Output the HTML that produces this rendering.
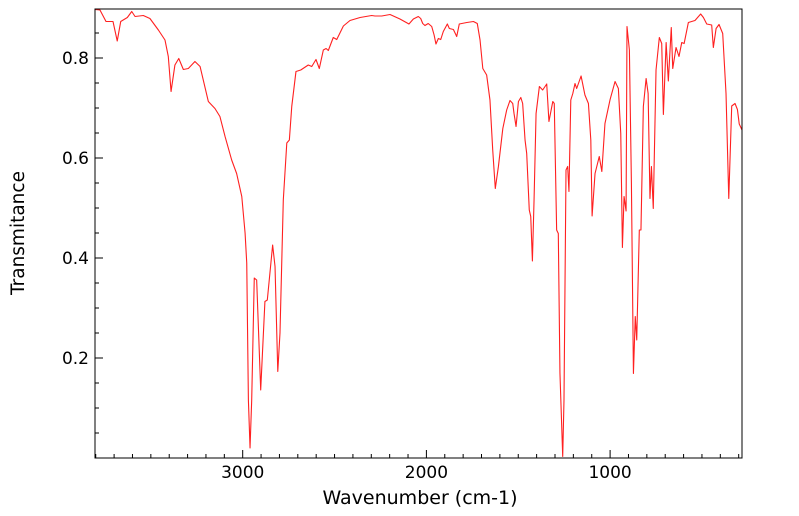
<!DOCTYPE html>
<html><head><meta charset="utf-8"><style>
html,body{margin:0;padding:0;background:#fff;}
svg{display:block;font-family:"DejaVu Sans","Liberation Sans",sans-serif;}
</style></head><body>
<svg id="chart" width="799" height="516">
<defs><clipPath id="clip"><rect x="95" y="9" width="647" height="449"/></clipPath></defs>
<rect x="0" y="0" width="799" height="516" fill="#fff"/>
<g id="ticks"></g>
<path id="spectrum" fill="none" stroke="#ff2020" stroke-width="1.1" stroke-linejoin="round" clip-path="url(#clip)"/>
<rect x="95" y="9" width="647" height="449" fill="none" stroke="#000" stroke-width="1"/>
<text x="24" y="233" transform="rotate(-90 24 233)" text-anchor="middle" font-size="18.5">Transmitance</text>
<text x="420" y="504" text-anchor="middle" font-size="19">Wavenumber (cm-1)</text>
</svg>
<script>
const wavenumbers=[3804,3777,3744,3706,3683,3664,3628,3604,3586,3541,3505,3459,3423,3405,3390,3369,3348,3323,3296,3260,3232,3187,3151,3124,3096,3060,3033,3005,2987,2978,2969,2960,2951,2937,2924,2902,2879,2866,2837,2824,2809,2797,2779,2760,2746,2733,2710,2684,2643,2624,2601,2583,2561,2546,2534,2507,2488,2452,2416,2361,2298,2280,2243,2198,2144,2095,2071,2044,2031,2020,2008,1990,1971,1958,1948,1935,1922,1908,1886,1875,1853,1835,1821,1780,1744,1723,1708,1693,1672,1654,1639,1625,1608,1584,1563,1545,1530,1523,1512,1499,1486,1476,1463,1454,1440,1432,1423,1414,1403,1385,1367,1345,1333,1312,1304,1291,1282,1273,1258,1251,1240,1231,1224,1214,1203,1191,1182,1158,1137,1118,1105,1098,1082,1059,1045,1028,1000,973,955,942,933,924,913,908,895,884,873,863,855,841,832,819,804,793,783,775,765,750,732,719,710,695,683,667,659,641,625,610,597,574,538,507,492,474,447,438,423,407,387,369,354,338,320,307,297,278];
const transmittance=[0.897,0.896,0.873,0.873,0.834,0.873,0.881,0.893,0.883,0.885,0.879,0.856,0.836,0.803,0.733,0.786,0.799,0.777,0.779,0.793,0.783,0.713,0.699,0.683,0.643,0.596,0.569,0.523,0.450,0.390,0.116,0.020,0.116,0.360,0.356,0.136,0.313,0.316,0.426,0.383,0.173,0.250,0.516,0.630,0.636,0.703,0.773,0.776,0.786,0.783,0.797,0.779,0.816,0.819,0.815,0.841,0.837,0.864,0.875,0.881,0.885,0.884,0.884,0.887,0.878,0.868,0.878,0.883,0.879,0.869,0.865,0.869,0.863,0.846,0.828,0.839,0.837,0.853,0.868,0.859,0.857,0.843,0.868,0.871,0.873,0.869,0.836,0.779,0.766,0.716,0.616,0.539,0.583,0.659,0.696,0.715,0.709,0.689,0.663,0.713,0.721,0.709,0.636,0.609,0.496,0.483,0.394,0.516,0.689,0.743,0.736,0.748,0.673,0.713,0.709,0.456,0.449,0.170,0.003,0.116,0.576,0.583,0.533,0.716,0.729,0.749,0.739,0.764,0.726,0.709,0.636,0.484,0.569,0.603,0.573,0.669,0.717,0.753,0.739,0.649,0.421,0.523,0.494,0.863,0.816,0.549,0.169,0.283,0.236,0.456,0.456,0.703,0.759,0.729,0.519,0.583,0.499,0.776,0.841,0.829,0.687,0.831,0.754,0.861,0.779,0.821,0.803,0.831,0.829,0.871,0.875,0.888,0.881,0.868,0.866,0.821,0.859,0.867,0.849,0.729,0.519,0.704,0.709,0.697,0.668,0.653];
const xTickLabels=[3000,2000,1000];
const yTickLabels=[0.2,0.4,0.6,0.8];

const X0=95,X1=742,Y0=9,Y1=458;
const wnLeft=3804,wnRight=282,tTop=0.898,tBottom=0;
function xs(w){return X0+(wnLeft-w)/(wnLeft-wnRight)*(X1-X0);}
function ys(t){return Y1-(t-tBottom)/(tTop-tBottom)*(Y1-Y0);}
const NS="http://www.w3.org/2000/svg";
let d="";
for(let i=0;i<wavenumbers.length;i++){d+=(i?"L":"M")+xs(wavenumbers[i]).toFixed(2)+","+ys(transmittance[i]).toFixed(2);}
document.getElementById("spectrum").setAttribute("d",d);
const g=document.getElementById("ticks");
function line(x1,y1,x2,y2,name){const l=document.createElementNS(NS,"line");
l.setAttribute("x1",x1);l.setAttribute("y1",y1);l.setAttribute("x2",x2);l.setAttribute("y2",y2);
l.setAttribute("stroke","#000");l.setAttribute("stroke-width","1");


g.appendChild(l);}
function text(x,y,s,anchor,name){const t=document.createElementNS(NS,"text");
t.setAttribute("x",x);t.setAttribute("y",y);t.setAttribute("text-anchor",anchor);t.setAttribute("font-size","17");t.textContent=s;


g.appendChild(t);}
for(let w=300;w<=3800;w+=100){const x=xs(w);const major=w%1000===0;
line(x,Y1,x,Y1-(major?8:4),major?"x-major-tick":"x-minor-tick");}
xTickLabels.forEach(w=>text(xs(w),478,String(w),"middle","x-tick-label"));
for(let k=1;k<=17;k++){const t=k*0.05;const y=ys(t);const major=k%4===0;
line(X0,y,X0+(major?8:4),y,major?"y-major-tick":"y-minor-tick");}
yTickLabels.forEach(t=>text(89,ys(t)+6,t.toFixed(1),"end","y-tick-label"));
</script>
</body></html>
